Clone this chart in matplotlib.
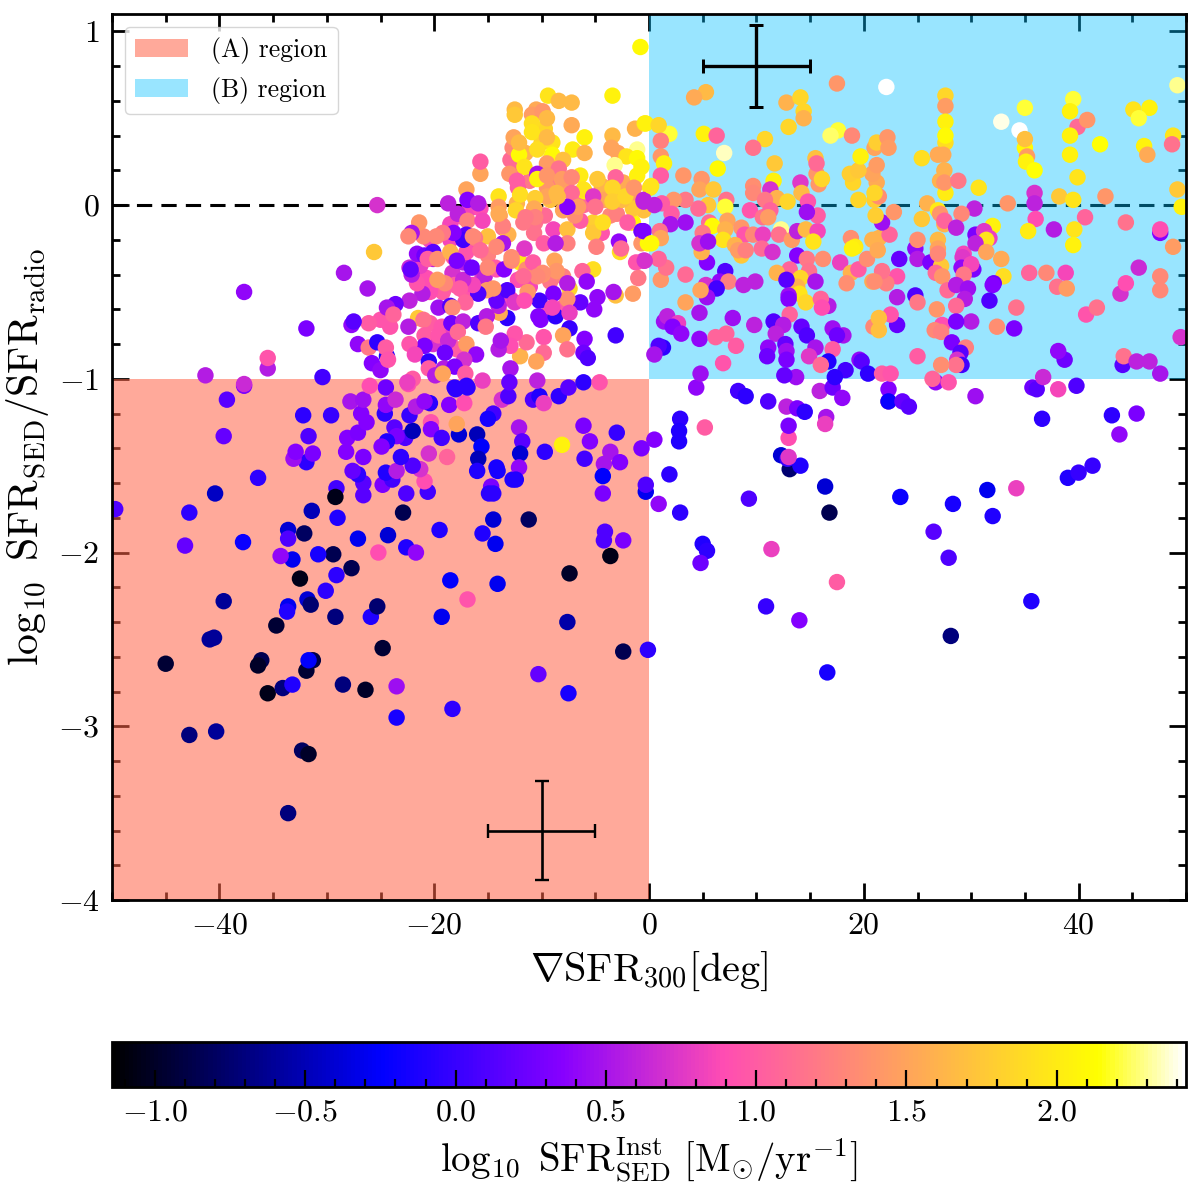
import numpy as np
import matplotlib
matplotlib.use("Agg")
import matplotlib.pyplot as plt
from matplotlib.patches import Rectangle
from matplotlib.ticker import MultipleLocator

plt.rcParams['font.family'] = ['cmr10']
plt.rcParams['mathtext.fontset'] = 'cm'
plt.rcParams['axes.formatter.use_mathtext'] = True
plt.rcParams['axes.unicode_minus'] = True

# each point: (grad SFR300 [deg], log10 SFR_SED/SFR_radio, log10 SFR_SED^Inst)
lower_left_far = [
(-39.3,-1.12,.15),(-37.7,-1.04,.3),(-37.7,-1.03,.65),(-39.6,-1.33,.2),(-36.4,-1.57,-.05),(-40.4,-1.66,-.45),(-49.7,-1.75,.1),
(-42.8,-1.77,-.05),(-43.2,-1.96,.2),(-37.8,-1.94,-.2),(-45,-2.64,-.95),(-40.5,-2.49,-.6),(-40.9,-2.5,-.6),(-39.6,-2.28,-.6),
(-34.7,-2.42,-.95),(-36.1,-2.62,-.85),(-36.4,-2.65,-1),(-35.5,-2.81,-1.05),(-34.1,-2.78,-.7),(-33.2,-2.76,-.1),(-31.9,-2.68,-.95),
(-31.3,-2.62,-.9),(-31.7,-2.62,-.25),(-28.5,-2.76,-.7),(-26.4,-2.79,-1),(-23.5,-2.77,.45),(-24.8,-2.55,-.95),(-25.9,-2.37,-.1),
(-25.3,-2.31,-.75),(-19.3,-2.37,-.3),(-16.9,-2.27,.95),(-14.1,-2.18,-.3),(-18.5,-2.16,-.25),(-29.2,-2.37,-.7),(-31.8,-2.27,-.4),
(-31.5,-2.3,-.75),(-33.6,-2.31,-.3),(-33.7,-2.34,-.1),(-30.1,-2.22,-.05),(-29.1,-2.13,-.05),(-32.5,-2.15,-1.05),(-27.7,-2.09,-.85),
(-29.4,-2.01,-.85),(-30.8,-2.01,-.15),(-33.2,-2.04,-.3),(-34.3,-2.02,.4),(-33.6,-1.87,-.4),(-33.6,-1.92,.1),(-32.1,-1.89,-.8),
(-27.1,-1.92,-.3),(-24.3,-1.9,-.4),(-25.2,-2,.9),(-22.6,-1.97,-.1),(-21.7,-2,.4),(-19.5,-1.87,-.1),(-15.5,-1.89,-.1),(-14.3,-1.95,-.3),
(-14.5,-1.81,-.4),(-22.9,-1.77,-.85),(-29,-1.8,-.1),(-31.4,-1.76,-.5),(-29.1,-1.63,.05),(-29.2,-1.68,-1.05),(-26.6,-1.67,.15),
(-42.8,-3.05,-.7),(-40.3,-3.03,-.6),(-32.3,-3.14,-.8),(-31.7,-3.16,-1),(-33.6,-3.5,-.7),(-23.5,-2.95,-.15),(-18.3,-2.9,-.05),
(-10.3,-2.7,.2),(-7.5,-2.81,-.15),(-7.6,-2.4,-.55),(-2.4,-2.57,-.85),(-.1,-2.56,-.05),(-7.4,-2.12,-1),(-3.6,-2.02,-1.05),
(-11.2,-1.81,-.8),(-4.1,-1.88,.1),(-4.2,-1.93,.1),(-2.4,-1.93,.3),
]
lower_left_near = [
(-22.6,-1.66,.1),(-20.6,-1.65,.05),(-20.9,-1.59,.9),(-24.8,-1.61,.3),(-23.9,-1.58,.05),(-24.5,-1.54,-.1),(-26.6,-1.6,.15),
(-27.1,-1.55,-.05),(-27.6,-1.53,.2),(-23.5,-1.53,.55),(-21.3,-1.52,.7),(-22,-1.5,.1),(-23.1,-1.45,-.05),(-31.9,-1.48,-.05),
(-31.3,-1.43,.3),(-33.1,-1.46,.45),(-32.9,-1.42,.35),(-31.7,-1.33,.1),(-32.2,-1.21,-.05),(-29.6,-1.21,0),(-28.2,-1.42,.35),
(-26.6,-1.45,.3),(-28.1,-1.34,.35),(-27.1,-1.31,.3),(-26.3,-1.25,.35),(-26.8,-1.2,.35),(-27.8,-1.13,.5),(-26.6,-1.12,.45),
(-24.6,-1.2,-.05),(-23.7,-1.28,.15),(-22.7,-1.34,.1),(-23.5,-1.33,.3),(-24.4,-1.36,-.1),(-24.9,-1.39,.35),(-22,-1.3,-.5),
(-22.3,-1.21,0),(-21.7,-1.16,.55),(-20.4,-1.14,-.05),(-20.3,-1.25,.95),(-20.3,-1.29,.35),(-20.5,-1.43,.7),(-18.8,-1.45,1.05),
(-19.3,-1.34,.05),(-17.7,-1.32,-.4),(-17.9,-1.26,1.5),(-16,-1.32,-.5),(-15.6,-1.39,-.25),(-15.9,-1.46,-.5),(-16,-1.53,-.1),
(-14.2,-1.51,-.15),(-14.1,-1.53,-.15),(-14.7,-1.62,.3),(-14.5,-1.66,-.05),(-14.9,-1.66,-.05),(-12.7,-1.58,-.1),(-14.5,-1.2,.05),
(-15,-1.23,-.15),(-18.6,-1.15,.35),(-17.2,-1.14,.9),(-18,-1.06,-.05),(-16.9,-1.05,-.05),(-15.5,-1.01,.8),(-13.7,-1.12,.7),(-13.1,-1.1,.1),
(-24.5,-1.05,.25),(-24.5,-1.15,.4),(-23.6,-1.12,.65),(-26,-1.04,.9),(-22.4,-1.03,.9),(-20.9,-1.13,.4),
(-10.8,-1.12,.1),(-10.2,-1.1,-.1),(-9.8,-1.14,.8),(-8.4,-1.1,-.05),(-12.1,-1.28,.5),(-11.8,-1.36,.15),(-12,-1.43,-.4),(-12.1,-1.51,.4),
(-12.4,-1.58,-.1),(-9.7,-1.42,-.05),(-8.1,-1.38,2.05),(-6.1,-1.27,.3),(-3,-1.31,0),(-5.5,-1.36,.35),(-6,-1.46,.05),(-3.6,-1.42,.5),
(-4.2,-1.49,.5),(-2.7,-1.48,.35),(-4.3,-1.56,-.25),(-4.3,-1.66,.3),(-.7,-1.4,.3),
]
lower_right = [
(.5,-1.35,.35),(1.9,-1.55,-.05),(-.3,-1.65,-.3),(-.3,-1.61,.1),(.9,-1.72,.4),(2.9,-1.77,-.05),(2.9,-1.23,-.05),(2.8,-1.3,-.1),(2.8,-1.36,-.1),
(5.2,-1.28,1.0),(5,-1.95,-.1),(5.4,-1.99,-.05),(4.8,-2.06,.25),(9.3,-1.69,.1),(10.9,-2.31,0),(11.4,-1.98,.8),(14,-2.39,.35),
(17.5,-2.17,1),(16.6,-2.69,-.15),(16.8,-1.77,-.85),(16.4,-1.62,-.4),(13.1,-1.52,-.75),(12.3,-1.44,-.4),(12.9,-1.46,0),(14.1,-1.5,-.1),
(13,-1.45,.75),(13,-1.34,.9),(13,-1.27,.3),(23.4,-1.68,-.2),(26.5,-1.88,.15),(27.9,-2.03,.1),(28.1,-2.48,-.7),(28.3,-1.72,-.15),
(31.5,-1.64,-.3),(32,-1.79,-.1),(34.2,-1.63,.8),(35.6,-2.28,-.1),(36.6,-1.23,-.05),(39,-1.57,-.1),(40,-1.54,0),(41.3,-1.5,0),
(43.1,-1.21,-.05),(43.8,-1.32,.4),(45.4,-1.2,.3),(4.4,-1.05,.4),(4.8,-.97,.45),(8.3,-1.07,.05),(9,-1.1,-.05),(11.1,-1.13,.1),
(12.8,-1.16,.6),(13.8,-1.17,.3),(14.5,-1.19,-.05),(15.9,-1.07,.6),(17.1,-1.05,.25),(18,-1.11,.4),(16.5,-1.22,.5),(16.4,-1.26,.8),
(22.3,-1.13,.95),(22.3,-1.06,.35),(22.3,-1.13,-.2),(23.6,-1.13,.2),(24.2,-1.16,.15),(30.4,-1.1,.45),(35.7,-1.05,.25),(36.1,-1.06,.15),
(38.1,-1.06,.85),(39.8,-1.04,.1),(26.7,-1.02,.4),(26.4,-1,1.05),(27.9,-1.02,.95),
]
upper_mid_top = [
(-.8,.91,2.1),(5.3,.65,1.65),(4.2,.62,1.55),(17.5,.70,1.4),(22.1,.68,2.45),(12.8,.59,1.6),(14.1,.62,1.85),(14.4,.54,1.85),(14.4,.5,1.6),
(13,.45,1.85),(17.6,.43,2.2),(16.9,.40,2.25),(18.9,.40,1.3),(-.3,.47,2.05),(1.9,.41,2.2),(.9,.46,1.85),(1.1,.37,1.25),(1.1,.28,1.4),
(1.4,.24,2.05),(1.1,.17,1.0),(5.1,.41,2.05),(6.3,.40,1.05),(7,.30,2.35),(10.8,.38,1.85),(9.7,.33,1.15),(6.4,.21,2.1),(11.7,.24,1.75),
(3.2,.17,1.4),(4.9,.15,1.4),(4.7,.09,1.5),(6,.09,1.75),(.2,.11,1.95),(7.2,.03,1.15),(5.5,0,1.75),(7.1,-.01,2.2),(7.3,-.09,1.5),
(4.6,-.02,1.1),(3.4,.03,1.2),(2.3,.03,1.4),(1.2,.01,1.0),(.5,0,.6),(-.5,.02,.6),(2.1,-.05,1.0),(3.4,-.10,.45),(2,-.11,.5),
(-.5,-.15,.3),(1,-.15,1.15),(1.1,-.19,1.5),(.2,-.22,2.1),(5.6,-.1,1.1),(5.9,-.12,2.1),(7.1,-.14,1.6),(6.9,-.2,1.95),(5,-.16,1.2),
(4.9,-.27,1.6),(4.7,-.22,.7),(5.5,-.21,.45),(8.6,-.13,1.4),(8.9,-.17,.95),(9.7,-.17,1.3),(10.6,-.17,.8),(8.6,-.29,1.75),(8,-.23,1.6),
(8.3,-.26,1.45),(9,-.26,1.25),(10.5,-.25,1.1),(11.5,-.27,.7),(9.4,-.03,.95),(9.7,.11,1.35),(9.7,.07,1.3),(11.6,.14,2.05),(11.3,.09,.7),
(11.9,.04,1.6),(12.9,.02,1.85),(10.8,.03,1.2),(10.6,-.07,1.15),(11.3,-.03,1.05),(11.1,-.07,1.45),(12.3,-.14,2.3),(12.1,-.17,1.15),
(13.3,-.2,1.45),(13.8,-.15,.6),(14.6,-.14,1.65),(15.7,-.15,.85),(15.3,-.21,1.95),(15.5,.27,1.7),(15.6,.18,1.4),(15.6,.24,1.1),
(15.8,.12,1.4),(16.1,.15,1.85),(14.1,.13,.75),(14.2,.07,1.65),(14.8,.02,.95),(15.7,-.06,1.0),(14.7,-.04,.45),
(18.8,-.19,1.35),(19.2,-.24,2.0),(18.9,-.25,2.05),(20.8,-.2,1.6),(21.4,-.19,1.6),(21.3,-.26,1.55),(22.4,-.17,1.05),(21.7,-.1,.45),
(21.1,-.06,1.8),(21,.03,1.8),(19.5,.03,1.85),(22.8,-.04,1.4),(21.4,.05,1.35),(21.2,.13,1.55),(21,.07,1.85),(20.8,.18,1.5),
(21.2,.23,1.45),(19,.13,1.85),(18.7,.18,1.8),(19.5,.2,1.75),(19.7,.28,2.05),(21,.33,1.5),(21.2,.36,1.8),(22.2,.39,1.4),(22.3,.33,1.45),
]
upper_mid_low = [
(13.8,-.29,.35),(14.7,-.31,1.2),(14.9,-.38,1.15),(13.1,-.37,1.05),(11.9,-.39,1.6),(14.1,-.42,1.85),(13.8,-.47,1.6),(12.8,-.43,.15),
(15.5,-.44,.5),(14,-.51,1.95),(14.6,-.56,1.85),(16.7,-.58,.55),(16,-.54,1.05),(16.1,-.59,.9),(13,-.52,.45),(13,-.54,.35),(13.1,-.63,1.05),
(16.2,-.31,1.35),(17.8,-.33,.8),(18.8,-.39,1.6),(19.5,-.37,1.0),(18.4,-.45,1.35),(20.3,-.31,1.35),(23.3,-.31,.2),(23.1,-.41,.95),
(22.1,-.45,1.25),(21.7,-.38,1.15),(20.8,-.44,1.55),(21,-.44,1.35),(23.1,-.53,.55),(24.8,-.52,.1),(25,-.56,1.2),
(5.4,-.33,.35),(3.4,-.4,1.1),(1.1,-.43,1.4),(1.6,-.36,1.15),(.9,-.31,1.05),(-.5,-.32,.65),(7.1,-.38,.1),(6.6,-.44,.4),(7.4,-.44,1.25),
(5.3,-.46,.7),(6.3,-.48,.05),(5.4,-.53,.45),(4.8,-.49,1.5),(8.8,-.46,.6),(9.9,-.44,.6),(3.4,-.56,1.5),(4.7,-.62,.5),(1.4,-.67,.45),
(1.7,-.64,.6),(2.7,-.68,.8),(2.2,-.7,.35),(3,-.74,.4),(4.7,-.77,.4),(7.8,-.65,.45),(9.8,-.69,.6),(11.6,-.67,.1),(12.5,-.69,.55),
(11.8,-.74,.6),(14.2,-.7,.2),(14.7,-.75,.1),(6.2,-.76,1.05),(7.2,-.74,1.05),(8.1,-.81,1.0),(6.9,-.91,.95),(1.3,-.82,-.05),(.9,-.81,.1),
(.5,-.86,.5),(11.1,-.82,.4),(11,-.87,.25),(12.7,-.8,.2),(12.8,-.84,.45),(12.8,-.89,.3),(13.7,-.99,.45),(12.6,-.98,.2),(18.1,-.75,.5),
(17.1,-.71,.45),(17.5,-.75,.25),(15.5,-.82,.5),(14.9,-.87,.75),(17.1,-.83,1.0),(16.7,-.9,-.1),(16,-.92,1.1),(19.6,-.89,.4),(19.8,-.9,.15),
(18.3,-.95,.05),(17.3,-.99,-.05),(20.4,-.97,-.05),(21.7,-.97,1.0),(22.5,-.97,.95),(23.1,-.69,.2),(22.5,-.63,.95),(20.9,-.7,1.3),
(21.4,-.65,1.7),(21.4,-.72,1.7),(25,-.87,1.0),
]
upper_right_top = [
(27.6,.63,1.85),(27.6,.57,1.45),(27.6,.48,2.05),(27.6,.36,1.9),(27.6,.4,2.1),(25.4,.27,1.9),(26.9,.29,1.55),(27.4,.29,1.55),(27.5,.2,1.6),
(27.6,.07,2.0),(27.1,.14,1.6),(27.5,.13,1.4),(28.8,.14,1.2),(30.7,.1,1.95),(32.8,.48,2.4),(34.5,.43,2.45),(35,.56,2.2),(35,.33,2.1),
(35.2,.28,1.45),(35.1,.25,2.05),(35,.38,1.7),(35.9,.2,2.15),(39.5,.61,2.2),(39.2,.54,2.05),(39.9,.45,1.1),(40.8,.49,1.4),(39.2,.4,2.05),
(39.2,.29,2.05),(42,.35,2.15),(39.9,.16,1.95),(45.1,.55,1.95),(46.6,.56,2.05),(45.6,.5,2.2),(46.1,.34,2.05),(46.4,.29,1.55),(48.8,.4,1.95),
(48.7,.35,1.15),(49.2,.69,2.3),(49.2,.09,1.75),(49.6,-.01,2.05),(35.9,.07,.7),(35.9,.01,.6),(36,-.08,.9),(35.3,-.15,2.0),(37.7,-.14,.55),
(38.2,.05,1.75),(39.5,.03,1.95),(42.5,.05,1.4),(40.6,-.07,1.05),(39.6,-.14,1.95),(39.5,-.23,2.05),(44.4,-.1,1.15),(47.6,-.16,.35),
(47.6,-.14,.9),(48.8,-.24,1.45),(33.4,.01,1.4),(30.3,-.02,.6),(29.1,-.05,1.3),(25.9,.01,1.6),(25.4,-.08,1.75),(26.9,-.03,2.0),
(27.1,-.05,1.4),(27.5,-.11,1.6),(27.5,-.09,1.05),(28.6,-.13,.6),(32,-.12,2.05),(30.4,-.17,.3),(31.2,-.15,.75),(31.7,-.19,.8),(31.4,-.2,1.95),
(30.4,-.22,.6),(31.4,-.27,1.5),(32.8,-.31,1.55),(26.9,-.2,1.65),(25,-.2,1.35),(26.9,-.25,1.5),(26.9,-.28,1.3),
]
upper_right_low = [
(24.8,-.25,.4),(25,-.31,.55),(26.2,-.33,.3),(27.2,-.35,1.75),(26.7,-.39,1.1),(27.3,-.41,1.4),(29.3,-.28,.85),(29.2,-.3,.75),(30.2,-.37,.3),
(29.1,-.36,.4),(30,-.34,.85),(29.3,-.4,1.2),(33,-.41,1.9),(32.1,-.45,.25),(32,-.46,.35),(31.7,-.55,.1),(27.8,-.49,1.1),(28.6,-.46,.55),
(29.7,-.48,.45),(29.4,-.54,.55),(28.6,-.58,1.1),(26.8,-.6,1.4),(34.2,-.59,1.15),(35.4,-.39,1.05),(37,-.39,1.3),(38,-.47,1.15),(38.8,-.39,.85),
(38.9,-.48,1.45),(40.7,-.63,.95),(41.7,-.59,1.15),(43.9,-.51,.7),(44.4,-.45,.9),(45.6,-.36,.65),(47.6,-.41,1.3),(47.6,-.49,1.3),(49.5,-.76,.7),
(32.4,-.7,1.35),(34,-.71,.3),(30,-.67,.55),(27.3,-.69,.9),(28.6,-.67,.3),(26.6,-.72,1.3),(27.2,-.73,1.25),(28.2,-.79,.3),(29.5,-.82,1.25),
(29,-.85,.15),(28.7,-.89,.7),(29.1,-.92,.05),(28.6,-.92,1.15),(27.2,-.92,1.35),(36.7,-.99,.65),(38.7,-.89,.25),(38.1,-.84,.4),(44.1,-.92,.15),
(44.2,-.87,1.15),(45.4,-.9,.6),(46.6,-.9,.6),(47.6,-.97,.5),
]
dense_pink = [
(-20.4,-.68,1.0),(-19.3,-.7,.95),(-20.1,-.8,.7),(-18.5,-.76,.8),(-17.9,-.83,1.0),(-17.1,-.5,.95),(-19.2,-.5,1.0),(-20.4,-.5,.9),(-20.7,-.42,.9),
(-18.3,-.39,.7),(-17.3,-.33,.55),(-16,-.24,.85),(-18.5,-.2,.85),(-20.4,-.2,.85),(-21.3,-.35,.8),(-22.3,-.36,.65),(-20.1,-.31,.6),(-15.5,-.41,.75),
(-12.2,-.43,.9),(-12.9,-.54,.85),(-11.1,-.47,.85),(-9.2,-.44,1.2),(-8,-.41,1.25),(-9.2,-.6,.95),(-8,-.59,1),(-15.3,-.41,.6),(-18.2,-.3,1.0),
(-17,-.27,.95),(-18.1,-.46,1.0),(-17.3,-.07,1.0),(-18.5,-.11,.85),(-16.7,-.02,.85),(-15.7,-.02,.9),(-14.2,-.37,.9),
]
dense_top = [
(-9.4,.63,1.95),(-8.4,.6,1.65),(-7.2,.59,1.65),(-3.4,.63,2.05),(-12.5,.55,1.65),(-12.5,.52,1.75),(-10.5,.55,1.55),(-10.9,.52,1.45),(-9.9,.54,1.4),
(-9.5,.5,1.65),(-10.9,.47,1.9),(-10.9,.42,1.95),(-7.2,.46,1.55),(-1.3,.44,1.6),(-.4,.47,2.0),(-6,.39,2.05),(-3.4,.4,1.65),(-12.7,.33,1.3),
(-12.6,.39,1.5),(-12.1,.29,2.1),(-12.1,.36,1.65),(-9,.36,1.95),(-9.5,.39,1.65),(-9,.29,2.1),(-10.4,.32,1.9),(-7.1,.32,2.0),(-6,.3,1.6),
(-8,.26,1.7),(-9.5,.24,1.45),(-3.5,.33,1.5),(-2.9,.3,1.5),(-1.1,.32,2.3),(-2.1,.28,1.95),(-3.2,.23,2.3),(-1.1,.27,2.1),(-.7,.22,2.05),
(-3.1,.16,1.05),(-1.1,.17,2.05),(-11.6,.22,1.95),(-13,.18,1.4),(-8.4,.21,1.15),(-10.4,.18,.5),(-10.4,.15,2.05),(-9.5,.17,1.4),(-8.1,.15,1.45),
(-6.4,.17,2.0),(-4.8,.15,1.75),(-7.2,.16,1.3),(-15.7,.18,1.5),(-15.7,.25,1.0),(-17,.09,1.5),(-12.3,.14,1.0),(-12.2,.1,1.0),(-14,.05,1.95),
(-12,.06,1.9),(-10.6,.04,1.8),(-8.6,.07,1.65),(-6.1,.09,1.95),(-7.2,.07,1.1),(-3.4,.1,1.85),(-3.4,.02,1.8),(-2.2,.05,1.85),(-1.4,.1,1.4),
(.1,.1,1.95),(-5.2,.05,.75),(-6.6,-.01,1.45),(-7.6,-.01,.35),(-5,-.01,1.15),(-.5,.03,.6),(-18.7,.01,.6),(-16.9,.03,.35),(-15.9,.01,.55),
(-25.3,0,.7),(-14,-.01,1.45),(-12.4,-.03,1.85),(-14,-.05,1.55),(-10.7,-.02,1.55),(-10.6,-.07,1.25),(-11.5,-.07,1.2),(-8.5,.05,1.65),
]
dense_orange = [
(-13.9,-.06,1.5),(-10.6,-.03,1.45),(-11.5,-.09,1.2),(-14.2,-.24,1.3),(-12.8,-.3,1.35),(-9.9,-.39,1.35),(-10.4,-.41,1.3),(-11.7,-.41,1.1),
(-16.4,-.18,1.3),(-15,-.36,1.3),(-15.7,-.26,1.1),(-13.6,-.12,1.25),(-10.6,-.1,1.15),(-9.7,-.06,1.1),(-11.7,-.1,1.2),(-7.5,-.01,1.5),(-6.7,.01,1.4),
(-8,.1,1.5),(-8.8,.09,1.7),(-3.6,.1,1.6),(-3.9,.06,1.7),(-3.6,-.06,1.3),(-3,-.05,1.25),(-6.1,0,1.1),(-8,-.03,1.5),(-9.2,.03,1.7),(-12.3,.01,1.6),
(-11.1,.14,1.2),(-9.5,.22,1.3),(-8.5,.2,1.15),(-9.4,.13,1.25),(-12.3,.22,1.05),(-12.9,.26,1.1),(-11.5,.3,1.6),(-9.2,.26,1.8),(-10,.36,1.85),
(-9.7,.44,1.85),(-9.5,.1,1.4),(-9.5,.05,1.5),(-6,.08,2.05),(-2.4,.13,1.55),(-1.5,.07,1.4),(-.5,-.03,1.7),(-1.5,-.02,1.75),(-2,-.1,1.0),(-2.5,.03,1.65),
(-4.4,.11,1.6),(-4.1,.03,1.5),(-4.3,-.1,1.9),
]
dense_mid = [
(-17.8,-.05,.6),(-16.9,-.09,1.25),(-15.5,-.09,.85),(-13.6,-.13,1.1),(-8.9,-.14,.85),(-7.6,-.14,1.7),(-5.2,-.1,1.8),(-4.4,-.16,.95),(-5.2,-.16,1.75),
(-6.4,-.09,1.0),(-6.9,-.06,1.35),(-1.8,-.1,.95),(-1.5,-.1,2.1),(-.7,-.15,.25),(-2.7,-.27,1.9),(-2.8,-.21,.4),(-2.6,-.25,1.1),(-.7,-.22,1.4),
(-.1,-.22,2.1),(-4.9,-.24,1.25),(-7.6,-.22,1.25),(-10.7,-.16,1.15),(-13.1,-.17,1.6),(-15,-.18,1.7),(-16.2,-.19,1.2),(-17,-.17,.15),(-17.3,-.2,.05),
(-18.2,-.16,.35),(-19.2,-.16,1.2),(-19.8,-.18,1.3),(-21,-.18,1.3),(-21.4,-.1,1.4),(-22.1,-.16,.5),(-22.4,-.18,1.3),(-25.6,-.27,1.75),
(-21.6,-.28,.4),(-20.9,-.29,.25),(-20.1,-.27,.15),(-20.6,-.31,1.0),(-19.7,-.31,1.35),(-18.5,-.27,1.6),(-17.9,-.32,.3),(-16.5,-.36,.25),
(-15,-.29,1.25),(-13.6,-.22,.5),(-14.3,-.36,1.0),(-13.5,-.37,.35),(-12,-.33,2.0),(-12.8,-.32,1.3),(-11.4,-.37,1.35),(-10.8,-.33,1.0),
(-11.6,-.25,.75),(-9.8,-.22,1.0),(-8.7,-.22,.55),(-8.8,-.32,1.5),(-8.6,-.38,1.4),(-9.9,-.4,1.4),(-5.2,-.37,1.9),(-6.2,-.38,1.05),(-5.8,-.44,.4),
(-7.4,-.48,1.85),(-7.6,-.45,.55),(-1.2,-.33,.95),(-.4,-.32,.7),(-1,-.42,1.2),(-3.1,-.52,1.7),(-3.3,-.5,.5),(-1.5,-.51,1.45),(-4.8,-.53,.4),
(-5.1,-.6,.4),(-6.4,-.56,.2),(-7.6,-.54,1.35),(-8.9,-.51,.3),(-10.2,-.55,.05),(-11.3,-.5,1.4),(-11.6,-.55,.9),(-8.7,-.64,-.05),(-10.3,-.64,.35),
(-9,-.59,.85),(-7.4,-.62,.8),(-7.4,-.71,0),(-8,-.75,1.5),(-6,-.77,.35),(-6.1,-.85,.25),(-5.7,-.88,.1),(-3.1,-.75,.05),(-7.6,-.83,1.15),
]
dense_low = [
(-9.8,-.76,.95),(-9.8,-.85,1.1),(-10.5,-.9,1.5),(-12,-.87,1.6),(-11.4,-.79,1.1),(-12.5,-.74,.95),(-12.9,-.81,.9),(-14,-.83,.55),(-13.8,-.78,.5),
(-10.1,-.66,.35),(-13.2,-.65,-.05),(-13.9,-.62,1.55),(-14,-.58,.6),(-14.2,-.55,.2),(-13.2,-.49,.1),(-12.5,-.56,.75),(-15.1,-.49,1.45),
(-14.5,-.48,1.4),(-15.9,-.51,.1),(-16.4,-.46,.85),(-17.3,-.43,.65),(-17.6,-.48,1.0),(-19,-.45,1.3),(-19.7,-.43,1.45),(-21.1,-.51,.55),
(-21.6,-.45,.95),(-22.1,-.4,.55),(-22.2,-.37,.2),(-26.2,-.48,.5),(-22.3,-.55,.6),(-17.1,-.56,1.05),(-19.6,-.59,.45),(-18.5,-.58,.1),(-18.3,-.59,1.3),
(-18.4,-.68,.25),(-17.3,-.67,.6),(-15.9,-.68,.1),(-15.1,-.64,.55),(-15.2,-.7,1.2),(-21.5,-.65,1.75),(-21,-.66,1.15),(-22.4,-.7,.55),(-24.1,-.7,.95),
(-25,-.66,.95),(-26.1,-.68,1.0),(-23.6,-.57,.25),(-24.4,-.59,.5),(-23.8,-.63,1.05),(-27.7,-.69,.4),(-27.5,-.67,.15),(-20.9,-.75,1.0),(-19.6,-.75,.95),
(-18.7,-.78,.65),(-17.8,-.73,1.1),(-17,-.8,1.45),(-20.9,-.81,.3),(-22.3,-.8,.95),(-21.8,-.86,.85),(-19,-.85,.25),(-16.1,-.86,.4),(-17.2,-.89,.7),
(-27.1,-.8,.4),(-26.1,-.82,1.2),(-24.4,-.87,-.1),(-25.3,-.79,-.05),(-24.5,-.82,1.0),(-25.8,-.91,.35),(-25,-.95,.4),(-24.3,-.89,.95),
(-20.5,-.9,-.05),(-20.5,-.94,1.0),(-19.9,-.98,.55),(-19.1,-.94,.55),(-18.1,-.93,.3),(-19.2,-.97,1.5),(-17.1,-.97,1.0),(-18.1,-1.05,-.05),(-17,-1.04,-.05),
(-22,-1,1.0),(-22.5,-1.02,.8),(-12.9,-.94,.5),(-13,-1.02,.2),(-10.4,-1.01,.6),(-7.5,-1.05,.15),(-6.1,-1.02,-.05),(-4.6,-1.02,.95),
(-37.7,-.5,.4),(-35.5,-.94,.55),(-35.5,-.88,.95),(-41.3,-.98,.55),(-30.4,-.99,.05),(-31.9,-.71,.3),(-28.4,-.39,.5),
]

points = np.array(lower_left_far + lower_left_near + lower_right + upper_right_low + upper_mid_low
                  + dense_pink + dense_low + dense_mid + dense_orange + dense_top + upper_mid_top + upper_right_top)
grad_sfr, log_ratio, log_sfr = points.T

region_a = (-50, -4, 50, 3)      # x0, y0, width, height
region_b = (0, -1, 50, 2.1)
err_points_x = [10, -10]
err_points_y = [0.8, -3.6]
err_x = [5, 5]
err_y = [0.236, 0.284]
err_lw = [2.4, 1.9]
region_labels = ['(A) region', '(B) region']
cbar_major = [-1.0, -0.5, 0.0, 0.5, 1.0, 1.5, 2.0]

W, H = 1200, 1195
fig = plt.figure(figsize=(W/100, H/100), dpi=100)
ax = fig.add_axes([112/W, 1-900/H, (1186-112)/W, (900-14)/H])

ax.axhline(0, color='k', ls=(0, (5, 3)), lw=2.2, zorder=1)
ax.add_patch(Rectangle(region_a[:2], region_a[2], region_a[3], color='tomato', alpha=0.55, lw=0, zorder=2, label=region_labels[0]))
ax.add_patch(Rectangle(region_b[:2], region_b[2], region_b[3], color='deepskyblue', alpha=0.4, lw=0, zorder=2, label=region_labels[1]))

sc = ax.scatter(grad_sfr, log_ratio, c=log_sfr, cmap='gnuplot2', vmin=-1.143, vmax=2.43, s=140, lw=0, zorder=3)

for i in range(2):
    ax.errorbar(err_points_x[i], err_points_y[i], xerr=err_x[i], yerr=err_y[i], color='k',
                lw=err_lw[i], capsize=5, capthick=err_lw[i]*0.9, zorder=4)

ax.set_xlim(-50, 50)
ax.set_ylim(-4, 1.1)
ax.xaxis.set_major_locator(MultipleLocator(20))
ax.xaxis.set_minor_locator(MultipleLocator(5))
ax.yaxis.set_major_locator(MultipleLocator(1))
ax.yaxis.set_minor_locator(MultipleLocator(0.2))
ax.tick_params(which='both', direction='in', top=True, right=True, width=2, labelsize=23, zorder=5)
ax.tick_params(which='major', length=12, pad=9)
ax.tick_params(which='minor', length=6)
for s in ax.spines.values():
    s.set_linewidth(2)
    s.set_zorder(6)
ax.set_xlabel(r'$\nabla\mathrm{SFR}_{300}\mathrm{[deg]}$', fontsize=29, labelpad=7)
ax.set_ylabel(r'$\log_{10}\ \mathrm{SFR}_{\mathrm{SED}}/\mathrm{SFR}_{\mathrm{radio}}$', fontsize=30, labelpad=5)

leg = ax.legend(loc='upper left', fontsize=18.5, bbox_to_anchor=(0.0, 1.0), borderaxespad=0.5,
                handlelength=2.05, handletextpad=0.9, framealpha=0.8)
leg.set_zorder(7)

cax = fig.add_axes([112/W, 1-1087/H, (1186-112)/W, 45/H])
cb = fig.colorbar(sc, cax=cax, orientation='horizontal')
cb.set_ticks(cbar_major)
cax.xaxis.set_minor_locator(MultipleLocator(0.1))
cax.tick_params(which='both', direction='in', width=1.6, labelsize=23)
cax.tick_params(which='major', length=12, pad=9)
cax.tick_params(which='minor', length=6)
cb.outline.set_linewidth(2)
cb.set_label(r'$\log_{10}\ \mathrm{SFR}_{\mathrm{SED}}^{\mathrm{Inst}}\ [\mathrm{M}_{\odot}/\mathrm{yr}^{-1}]$', fontsize=28, labelpad=6)

fig.savefig('out.png', dpi=100)
print(len(points))
